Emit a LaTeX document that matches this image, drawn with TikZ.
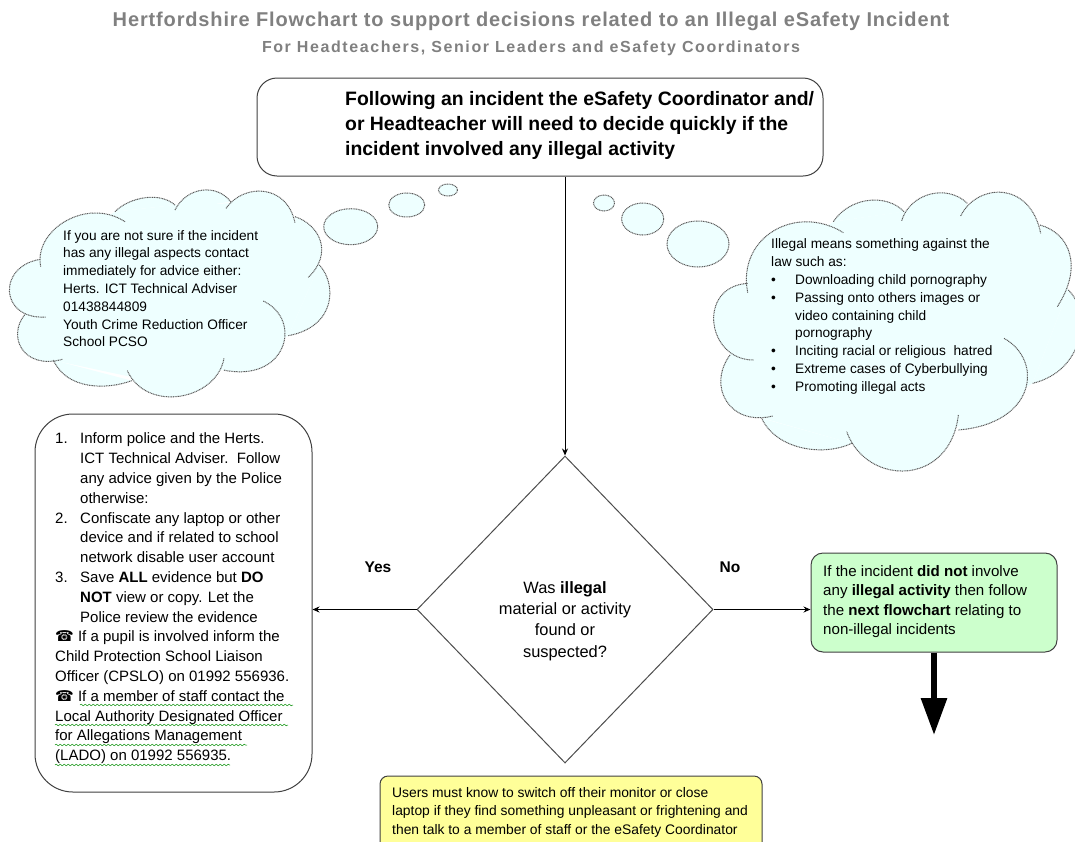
\documentclass[tikz,border=0pt]{standalone}
\usepackage{fontspec}
\setmainfont{Liberation Sans}
\newfontfamily\phonefont{DejaVu Sans}
\usetikzlibrary{arrows.meta,shapes.geometric,decorations.pathmorphing}
\definecolor{cloudblue}{HTML}{EEFFFF}
\definecolor{nextgreen}{HTML}{CCFFCC}
\definecolor{noteyellow}{HTML}{FFFF99}
\definecolor{titlegrey}{HTML}{808080}
\tikzstyle{Box}=[rectangle, draw=black!75, line width=1pt, fill=white, inner sep=0]
\tikzstyle{Txt}=[anchor=west, align=left, inner sep=0]
\tikzstyle{Link}=[draw=black, line width=1pt, -{Stealth[length=7pt,width=6pt]}]
\tikzstyle{CloudLine}=[draw=black!65, line width=1pt, dash pattern=on 1pt off 0.7pt]
\tikzstyle{Squiggle}=[draw=green!55!black, line width=0.5pt, decorate, decoration={snake, amplitude=0.8pt, segment length=4pt}]
\newcommand{\numline}[2]{\makebox[25pt][l]{#1}#2}
\newcommand{\bulline}[1]{\makebox[24pt][l]{\textbullet}#1}
\newcommand{\phone}{{\phonefont\char"260E}}
% cloud lobes, one curve each
\newcommand{\leftlobes}{
      122/290/100/180/260/80/375/155,
      345/125/390/80/480/65/525/105,
      525/120/560/50/650/40/692/95,
      678/115/730/40/860/40/885/158,
      885/140/960/165/1000/250/925/322,
      958/285/1010/340/1010/470/865/497,
      790/393/910/450/860/640/670/600,
      672/565/650/690/440/730/382/602,
      395/632/320/660/200/660/160/570,
      187/568/70/600/20/500/75/433,
      137/441/0/450/-10/290/120/268}
\newcommand{\rightlobes}{
      503/368/470/200/650/100/790/188,
      760/155/810/80/920/70/972/125,
      965/152/990/70/1100/40/1162/100,
      1142/138/1190/40/1350/30/1382/190,
      1380/165/1470/190/1510/290/1432/410,
      1465/360/1530/420/1520/600/1358/640,
      1272/505/1390/570/1370/760/1135/780,
      1135/735/1110/950/860/950/800/785,
      815/820/730/860/590/840/545/745,
      578/738/450/770/380/650/450/555,
      520/570/380/570/350/350/503/340}
\begin{document}
\begin{tikzpicture}[x=1pt,y=-1pt]
    \useasboundingbox (0,0) rectangle (1075,841);
    \clip (0,0) rectangle (1075,841);

    % left thought cloud
    \begin{scope}[shift={(0,170)},x=0.33333pt,y=-0.33333pt]
    \fill[cloudblue] (122,268) -- (345,125) -- (525,105) -- (685,100) -- (885,150) -- (958,285) -- (865,497) -- (670,600) -- (390,620) -- (165,572) -- (75,433) -- cycle;
    \foreach \p/\q/\r/\s/\t/\u/\v/\w in \leftlobes
      {\fill[cloudblue] (\p,\q) .. controls (\r,\s) and (\t,\u) .. (\v,\w) -- cycle;}
    \foreach \p/\q/\r/\s/\t/\u/\v/\w in \leftlobes
      {\draw[CloudLine] (\p,\q) .. controls (\r,\s) and (\t,\u) .. (\v,\w);}
    \end{scope}
    \draw[CloudLine, fill=cloudblue] (350.7,226.7) ellipse (27 and 18);
    \draw[CloudLine, fill=cloudblue] (406.7,205) ellipse (18 and 12);
    \draw[CloudLine, fill=cloudblue] (448,190) ellipse (9.5 and 6);

    % right thought cloud
    \begin{scope}[shift={(580,170)},x=0.33333pt,y=-0.33333pt]
    \fill[cloudblue] (503,340) -- (760,155) -- (968,125) -- (1150,100) -- (1380,175) -- (1465,360) -- (1358,640) -- (1135,770) -- (815,820) -- (550,745) -- (450,555) -- cycle;
    \foreach \p/\q/\r/\s/\t/\u/\v/\w in \rightlobes
      {\fill[cloudblue] (\p,\q) .. controls (\r,\s) and (\t,\u) .. (\v,\w) -- cycle;}
    \foreach \p/\q/\r/\s/\t/\u/\v/\w in \rightlobes
      {\draw[CloudLine] (\p,\q) .. controls (\r,\s) and (\t,\u) .. (\v,\w);}
    \end{scope}
    \draw[CloudLine, fill=cloudblue] (698,244) ellipse (31 and 23);
    \draw[CloudLine, fill=cloudblue] (642.7,219) ellipse (21 and 16);
    \draw[CloudLine, fill=cloudblue] (604,203) ellipse (10.5 and 8);

    \path
    (531,21) node[text=titlegrey, font=\bfseries\fontsize{20}{24}\selectfont\addfontfeatures{LetterSpace=4.3}] (title) {Hertfordshire Flowchart to support decisions related to an Illegal eSafety Incident}
    (531,48) node[text=titlegrey, font=\bfseries\fontsize{16}{19}\selectfont\addfontfeatures{LetterSpace=9.9}] (subtitle) {For Headteachers, Senior Leaders and eSafety Coordinators}
    (540,127) node[Box, minimum width=566pt, minimum height=98pt, rounded corners=20pt] (start) {}
    (173.5,603) node[Box, minimum width=277pt, minimum height=378pt, rounded corners=38pt] (police) {}
    (565,609.5) node[diamond, draw=black!70, line width=1pt, inner sep=0, minimum width=296pt, minimum height=307pt] (illegal) {}
    (934,602.5) node[Box, fill=nextgreen, minimum width=246pt, minimum height=99pt, rounded corners=12pt] (notillegal) {}
    (571,820) node[Box, fill=noteyellow, minimum width=382pt, minimum height=88pt, rounded corners=8pt] (users) {};

    \path (345,126) node[Txt, font=\bfseries\fontsize{19.4}{25}\selectfont] (starttxt) {Following an incident the eSafety Coordinator and/\\or Headteacher will need to decide quickly if the\\incident involved any illegal activity}
    (63,288.5) node[Txt, font=\fontsize{13.7}{17.8}\selectfont] (lefttxt) {If you are not sure if the incident\\has any illegal aspects contact\\immediately for advice either:\\Herts. ICT Technical Adviser\\01438844809\\Youth Crime Reduction Officer\\School PCSO}
    (771,316.5) node[Txt, font=\fontsize{13.7}{17.9}\selectfont] (righttxt) {Illegal means something against the\\law such as:\\\bulline{Downloading child pornography}\\\bulline{Passing onto others images or}\\\hspace*{24pt}video containing child\\\hspace*{24pt}pornography\\\bulline{Inciting racial or religious\ \ hatred}\\\bulline{Extreme cases of Cyberbullying}\\\bulline{Promoting illegal acts}}
    (55,598.5) node[Txt, font=\fontsize{15}{19.8}\selectfont] (policetxt) {\numline{1.}{Inform police and the Herts.}\\\hspace*{25pt}ICT Technical Adviser.\ \ Follow\\\hspace*{25pt}any advice given by the Police\\\hspace*{25pt}otherwise:\\\numline{2.}{Confiscate any laptop or other}\\\hspace*{25pt}device and if related to school\\\hspace*{25pt}network disable user account\\\numline{3.}{Save \textbf{ALL} evidence but \textbf{DO}}\\\hspace*{25pt}\textbf{NOT} view or copy. Let the\\\hspace*{25pt}Police review the evidence\\\phone\ If a pupil is involved inform the\\Child Protection School Liaison\\Officer (CPSLO) on 01992 556936.\\\phone\ If a member of staff contact the\\Local Authority Designated Officer\\for Allegations Management\\(LADO) on 01992 556935.}
    (565,621) node[align=center, inner sep=0, font=\fontsize{16.4}{21.4}\selectfont] (illegaltxt) {Was \textbf{illegal}\\material or activity\\found or\\suspected?}
    (823,601.5) node[Txt, font=\fontsize{15.1}{19.6}\selectfont] (notillegaltxt) {If the incident \textbf{did not} involve\\any \textbf{illegal activity} then follow\\the \textbf{next flowchart} relating to\\non-illegal incidents}
    (392,812) node[Txt, font=\fontsize{13.85}{18.5}\selectfont] (userstxt) {Users must know to switch off their monitor or close\\laptop if they find something unpleasant or frightening and\\then talk to a member of staff or the eSafety Coordinator}
    (378,567) node[font=\bfseries\fontsize{15.5}{18}\selectfont] (yes) {Yes}
    (730,567) node[font=\bfseries\fontsize{15.5}{18}\selectfont] (no) {No};

    \coordinate (nextflow) at (934,735);

    \draw[Link] (start.south -| illegal.north) -- (illegal.north);
    \draw[Link] (illegal.west) -- (illegal.west -| police.east);
    \draw[Link] (illegal.east) -- (illegal.east -| notillegal.west);
    \draw[line width=6pt, -{Triangle[length=37pt,width=25pt]}] (notillegal.south) -- (nextflow);

    % spell check underlines
    \foreach \xa/\xb/\ya in {80/293/705, 55/288/725, 55/247/745, 55/230/765}
      \draw[Squiggle] (\xa,\ya) -- (\xb,\ya);
\end{tikzpicture}
\end{document}
